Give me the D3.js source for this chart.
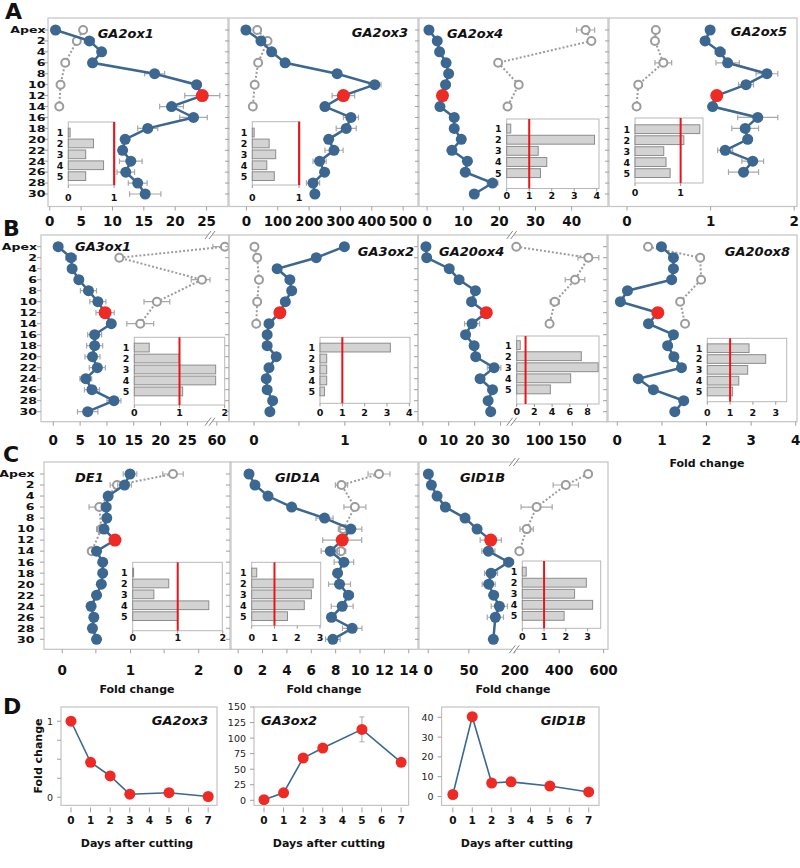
<!DOCTYPE html>
<html><head><meta charset="utf-8">
<script src="https://cdn.jsdelivr.net/npm/d3@7"></script>
<style>body{margin:0;background:#fff}svg{display:block}</style>
</head><body>
<script>
// ---------------- DATA ----------------
const rows = ["Apex","2","4","6","8","10","12","14","16","18","20","22","24","26","28","30"];
const insetCats = ["1","2","3","4","5"];
const days = [0,1,2,3,5,7];
const dayTicks = [0,1,2,3,4,5,6,7];

const GA2ox1_val = [1.0,6.4,8.35,6.9,16.8,23.5,24.4,19.5,23.0,15.7,12.1,11.7,13.0,12.2,14.1,15.3];
const GA2ox1_err = [0,0.8,0.5,0.4,1.6,0.5,2.8,1.9,2.2,1.6,0.5,0.5,1.8,1.4,1.5,2.5];
const GA2ox1_ref = [5.4,4.4,null,2.55,null,1.8,null,1.6];
const GA2ox1_refErr = [0.3,0.3,null,0.2,null,0.2,null,0.2];
const GA2ox1_inset = [0.04,0.55,0.38,0.77,0.38];
const GA2ox1_ticks = [0,5,10,15,20,25];

const GA2ox3_val = [0,48,82,125,291,411,311,252,335,320,264,281,235,251,214,220];
const GA2ox3_err = [0,10,8,12,10,20,36,10,24,32,10,29,21,10,21,8];
const GA2ox3_ref = [36,69,null,39,null,28,null,22];
const GA2ox3_refErr = [5,5,null,5,null,5,null,5];
const GA2ox3_inset = [0.04,0.36,0.5,0.31,0.47];
const GA2ox3_ticks = [0,100,200,300,400,500];

const GA2ox4_val = [0.65,2.95,3.6,5.4,6.1,5.25,4.4,3.7,7.65,7.65,9.6,7.0,11.3,10.7,18.25,13.2];
const GA2ox4_err = [0,0.3,0.3,0.3,0.3,0.3,0.3,0.3,0.3,0.3,0.3,0.3,0.3,0.3,1.5,0.3];
const GA2ox4_ref = [44.0,45.6,null,19.8,null,25.5,null,22.4];
const GA2ox4_refErr = [2.5,0.5,null,0.5,null,0.8,null,0.4];
const GA2ox4_inset = [0.18,3.9,1.4,1.78,1.5];
const GA2ox4_ticks = [0,10,20,30,40];

const GA2ox5_val = [1.0,0.94,1.12,1.21,1.68,1.43,1.08,1.03,1.57,1.42,1.45,1.18,1.51,1.40,null,null];
const GA2ox5_err = [0,0.02,0.06,0.14,0.13,0.09,0.02,0.02,0.24,0.16,0.05,0.09,0.13,0.18,null,null];
const GA2ox5_ref = [0.35,0.34,null,0.44,null,0.14,null,0.12];
const GA2ox5_refErr = [0.02,0.02,null,0.1,null,0.02,null,0.02];
const GA2ox5_inset = [1.42,1.07,0.63,0.68,0.77];
const GA2ox5_ticks = [0,1,2];

const GA3ox1_val = [1.0,3.4,3.6,4.85,6.65,8.4,9.75,10.9,7.8,7.8,7.4,8.3,6.15,7.3,11.4,6.5];
const GA3ox1_err = [0,1.0,0.5,0.5,1.5,1.5,1.7,0.5,1.3,1.5,1.4,1.5,1.1,1.4,1.3,1.9];
const GA3ox1_ref = [62.7,12.4,null,27.8,null,19.4,null,16.3];
const GA3ox1_refErr = [3.8,0.3,null,2.0,null,2.4,null,2.5];
const GA3ox1_inset = [0.33,0.99,1.8,1.8,1.07];
const GA3ox1_ticks = [0,5,10,15,20,25,60];

const GA3ox2_val = [1.0,0.69,0.26,0.40,0.42,0.35,0.29,0.17,0.15,0.15,0.25,0.17,0.14,0.15,0.21,0.18];
const GA3ox2_err = [0.03,0.03,0.02,0.03,0.03,0.02,0.02,0.02,0.02,0.02,0.03,0.02,0.02,0.02,0.02,0.02];
const GA3ox2_ref = [0.01,0.04,null,0.06,null,0.04,null,0.03];
const GA3ox2_refErr = [0.01,0.01,null,0.01,null,0.01,null,0.01];
const GA3ox2_inset = [3.15,0.3,0.3,0.3,0.2];
const GA3ox2_ticks = [0,1];

const GA20ox4_val = [1.4,1.7,10.4,14.2,20.5,19.0,24.7,19.2,16.7,20.0,20.6,27.7,22.3,27.1,25.4,26.4];
const GA20ox4_err = [0,0.3,0.5,0.5,0.5,0.5,0.5,2.9,0.5,0.5,0.5,2.6,0.5,0.5,0.5,0.5];
const GA20ox4_ref = [65,175.5,null,155,null,124,null,116];
const GA20ox4_refErr = [2,16,null,15,null,7,null,3];
const GA20ox4_inset = [0.4,7.3,9.2,6.1,3.8];
const GA20ox4_ticks = [0,10,20,30,100,150];

const GA20ox8_val = [1.0,1.27,1.27,1.23,0.24,0.08,0.92,0.71,1.27,1.14,1.28,1.45,0.48,0.82,1.5,1.3];
const GA20ox8_err = [0.02,0.02,0.02,0.02,0.02,0.02,0.02,0.02,0.02,0.02,0.02,0.02,0.02,0.02,0.02,0.02];
const GA20ox8_ref = [0.70,1.87,null,1.89,null,1.42,null,1.53];
const GA20ox8_refErr = [0.02,0.02,null,0.02,null,0.02,null,0.02];
const GA20ox8_inset = [1.83,2.56,1.77,1.38,1.11];
const GA20ox8_ticks = [0,1,2,3,4];

const DE1_val = [1.0,0.92,0.68,0.65,0.66,0.62,0.78,0.51,0.60,0.60,0.58,0.51,0.43,0.47,0.45,0.51];
const DE1_err = [0.1,0.1,0.03,0.07,0.03,0.03,0.03,0.03,0.03,0.03,0.03,0.02,0.02,0.02,0.02,0.02];
const DE1_ref = [1.63,0.81,null,0.55,null,0.58,null,0.44];
const DE1_refErr = [0.15,0.1,null,0.15,null,0.07,null,0.03];
const DE1_inset = [0.02,0.8,0.47,1.69,1.0];
const DE1_ticks = [0,1,2];

const GID1A_val = [0.93,1.42,2.49,4.43,7.13,9.29,8.58,7.6,8.72,8.2,8.36,9.1,8.58,7.7,9.4,7.81];
const GID1A_err = [0,0.1,0.1,0.1,0.7,0.9,1.6,0.75,0.8,0.3,0.9,0.4,0.9,0.2,0.8,0.6];
const GID1A_ref = [11.6,8.52,null,9.62,null,8.66,null,8.47];
const GID1A_refErr = [0.9,0.5,null,0.9,null,0.4,null,0.4];
const GID1A_inset = [0.22,2.7,2.62,2.31,1.57];
const GID1A_ticks = [0,2,4,6,8,10,12,14];

const GID1B_val = [0.8,4.5,11.5,21.7,45.9,60.7,77.5,74.6,99.6,77.9,75.0,81.1,88.1,83.2,null,80.7];
const GID1B_err = [0,1,1,1,2,2,13,8,6,8,8,5,10,10,null,3];
const GID1B_ref = [532.6,432,null,300.6,null,255.6,null,222.7];
const GID1B_refErr = [15,57,null,70,null,30,null,5];
const GID1B_inset = [0.18,2.94,2.4,3.23,1.92];
const GID1B_ticks = [0,50,200,400,600];

const D_GA2ox3 = [1.0,0.46,0.28,0.04,0.06,0.01];
const D_GA2ox3_err = [0,0.01,0.01,0.01,0.01,0.01];
const D_GA3ox2 = [1,12,68,84,114,61];
const D_GA3ox2_err = [0,3,6,5,20,4];
const D_GID1B = [1,40.3,6.8,7.4,5.3,2.3];
const D_GID1B_err = [0,0.5,0.5,0.5,1,0.5];

// ---------------- STYLE / LAYOUT ----------------
const FONT = "'DejaVu Sans', sans-serif";
const BLUE = "#3b6790", RED = "#ee2a24", GRAY = "#9c9c9c", FRAME = "#c4c4c4", TICK = "#a0a0a0";

const svg = d3.select("body").append("svg").attr("width",800).attr("height",868)
  .style("font-family", FONT);

const rowLayout = {
  A:{top:18,bottom:206.5,y0:30,y1:194,tickTop:10,labelX:45.5},
  B:{top:235,bottom:421.7,y0:246.7,y1:411.7,tickTop:14,labelX:37},
  C:{top:462,bottom:649.3,y0:474,y1:639.3,tickTop:16,labelX:34.5}
};

const panels = [
 {row:"A",title:"GA2ox1",val:GA2ox1_val,err:GA2ox1_err,ref:GA2ox1_ref,refErr:GA2ox1_refErr,inset:GA2ox1_inset,ticks:GA2ox1_ticks,
  frame:[48,228],dom:[-0.2,28.5],rng:[48,228],tp:{x:97.7,y:37.7,a:"start"},labels:true,
  ins:{x0:68.3,x1:115,max:1.02,top:122,bot:185,band:[126,182.7],ticks:[0,1],ly:198}},
 {row:"A",title:"GA2ox3",val:GA2ox3_val,err:GA2ox3_err,ref:GA2ox3_ref,refErr:GA2ox3_refErr,inset:GA2ox3_inset,ticks:GA2ox3_ticks,
  frame:[229,418],dom:[-54,549],rng:[229,418],tp:{x:408,y:37.4,a:"end"},
  ins:{x0:252.3,x1:300,max:1.02,top:121.7,bot:185,band:[126,182.7],ticks:[0,1],ly:197.3}},
 {row:"A",title:"GA2ox4",val:GA2ox4_val,err:GA2ox4_err,ref:GA2ox4_ref,refErr:GA2ox4_refErr,inset:GA2ox4_inset,ticks:GA2ox4_ticks,
  frame:[419,608],dom:[-2.1,50.2],rng:[419,608],tp:{x:447,y:38,a:"start"},
  ins:{x0:506.7,x1:599,max:4.1,top:119,bot:188.5,band:[121.9,179.8],ticks:[0,1,2,3,4],ly:195.5}},
 {row:"A",title:"GA2ox5",val:GA2ox5_val,err:GA2ox5_err,ref:GA2ox5_ref,refErr:GA2ox5_refErr,inset:GA2ox5_inset,ticks:GA2ox5_ticks,
  frame:[609,797],dom:[-0.21,2.04],rng:[609,797],tp:{x:787,y:36.4,a:"end"},
  ins:{x0:635,x1:703,max:1.49,top:118,bot:183,band:[122.6,179.7],ticks:[0,1],ly:193}},
 {row:"B",title:"GA3ox1",val:GA3ox1_val,err:GA3ox1_err,ref:GA3ox1_ref,refErr:GA3ox1_refErr,inset:GA3ox1_inset,ticks:GA3ox1_ticks,
  frame:[41,229],dom:[-2.2,29.3,58,64],rng:[41,210,210,229],brk:210,tp:{x:75,y:251.4,a:"start"},labels:true,
  ins:{x0:134.3,x1:224.7,max:2.0,top:337.3,bot:405,band:[341,398],ticks:[0,1,2],ly:412.7}},
 {row:"B",title:"GA3ox2",val:GA3ox2_val,err:GA3ox2_err,ref:GA3ox2_ref,refErr:GA3ox2_refErr,inset:GA3ox2_inset,ticks:GA3ox2_ticks,minor:[0.5,1.5],
  frame:[229,418],dom:[-0.27,1.81],rng:[229,418],tp:{x:414,y:256.4,a:"end"},
  ins:{x0:320,x1:410,max:4.03,top:337.3,bot:403.3,band:[341,398],ticks:[0,1,2,3,4],ly:412.7}},
 {row:"B",title:"GA20ox4",val:GA20ox4_val,err:GA20ox4_err,ref:GA20ox4_ref,refErr:GA20ox4_refErr,inset:GA20ox4_inset,ticks:GA20ox4_ticks,
  frame:[418,608],dom:[-1.66,34.5,58,205.6],rng:[418,511.7,511.7,608],brk:511.7,tp:{x:439,y:256.4,a:"start"},
  ins:{x0:516.7,x1:599,max:9.3,top:336,bot:404,band:[338.5,396],ticks:[0,2,4,6,8],ly:411.7}},
 {row:"B",title:"GA20ox8",val:GA20ox8_val,err:GA20ox8_err,ref:GA20ox8_ref,refErr:GA20ox8_refErr,inset:GA20ox8_inset,ticks:GA20ox8_ticks,
  frame:[607,797],dom:[-0.22,4.04],rng:[607,797],tp:{x:790,y:256.4,a:"end"},
  ins:{x0:707.3,x1:786.7,max:3.48,top:338.3,bot:401.7,band:[341.7,398],ticks:[0,1,2,3],ly:412.7}},
 {row:"C",title:"DE1",val:DE1_val,err:DE1_err,ref:DE1_ref,refErr:DE1_refErr,inset:DE1_inset,ticks:DE1_ticks,minor:[0.5,1.5],
  frame:[44,231],dom:[-0.26,2.48],rng:[44,231],tp:{x:75,y:482.4,a:"start"},labels:true,
  ins:{x0:132.7,x1:222.3,max:1.99,top:562.3,bot:630.7,band:[566,622.7],ticks:[0,1,2],ly:637.7}},
 {row:"C",title:"GID1A",val:GID1A_val,err:GID1A_err,ref:GID1A_ref,refErr:GID1A_refErr,inset:GID1A_inset,ticks:GID1A_ticks,
  frame:[230,418],dom:[-0.63,14.8],rng:[230,418],tp:{x:275,y:482.4,a:"start"},
  ins:{x0:251.7,x1:320.7,max:3.03,top:562.3,bot:625.7,band:[566,622.7],ticks:[0,1,2,3],ly:637.7}},
 {row:"C",title:"GID1B",val:GID1B_val,err:GID1B_err,ref:GID1B_ref,refErr:GID1B_refErr,inset:GID1B_inset,ticks:GID1B_ticks,
  frame:[419,608],dom:[-10,106.5,200,622],rng:[419.6,514.3,514.3,608],brk:514.3,tp:{x:460,y:482.4,a:"start"},
  ins:{x0:522.3,x1:600.7,max:3.6,top:561,bot:628.3,band:[565,622.5],ticks:[0,1,2,3],ly:636.7}}
];

function errBar(g, x, y, v, e, color) {
  if (v == null || e == null || e <= 0) return;
  const a = x(v - e), b = x(v + e);
  g.append("line").attr("x1",a).attr("x2",b).attr("y1",y).attr("y2",y).attr("stroke",color).attr("stroke-width",1.2);
  [a,b].forEach(xx => g.append("line").attr("x1",xx).attr("x2",xx).attr("y1",y-2.8).attr("y2",y+2.8).attr("stroke",color).attr("stroke-width",1.2));
}

function drawBreak(g, bx, y) {
  g.append("polygon").attr("points",`${bx-5},${y+4} ${bx+1},${y-4} ${bx+5},${y-4} ${bx-1},${y+4}`).attr("fill","#fff");
  g.append("line").attr("x1",bx-5).attr("y1",y+4).attr("x2",bx+1).attr("y2",y-4).attr("stroke","#888");
  g.append("line").attr("x1",bx-1).attr("y1",y+4).attr("x2",bx+5).attr("y2",y-4).attr("stroke","#888");
}

function drawInset(g, ins, data) {
  const x = d3.scaleLinear().domain([0, ins.max]).range([ins.x0, ins.x1]);
  const y = d3.scaleBand().domain(insetCats).range(ins.band).padding(0.2);
  g.append("rect").attr("x",ins.x0).attr("y",ins.top).attr("width",ins.x1-ins.x0).attr("height",ins.bot-ins.top)
    .attr("fill","#fff").attr("stroke","#b8b8b8");
  g.selectAll(null).data(data).join("rect")
    .attr("x",x(0)).attr("y",(d,i)=>y(insetCats[i])).attr("width",d=>x(d)-x(0)).attr("height",y.bandwidth())
    .attr("fill","#d3d3d3").attr("stroke","#8c8c8c").attr("stroke-width",1);
  g.append("line").attr("x1",x(1)).attr("x2",x(1)).attr("y1",ins.top).attr("y2",ins.bot).attr("stroke","#e8161b").attr("stroke-width",2);
  ins.ticks.forEach(t => {
    g.append("line").attr("x1",x(t)).attr("x2",x(t)).attr("y1",ins.bot).attr("y2",ins.bot+3).attr("stroke","#999");
    g.append("text").attr("x",x(t)).attr("y",ins.ly).attr("dy","0.36em").attr("text-anchor","middle")
      .attr("font-size",9.5).attr("font-weight","bold").attr("fill","#111").text(t);
  });
  insetCats.forEach(c => g.append("text").attr("x",ins.x0-5).attr("y",y(c)+y.bandwidth()/2).attr("dy","0.36em")
    .attr("text-anchor","end").attr("font-size",9.5).attr("font-weight","bold").attr("fill","#111").text(c));
}

panels.forEach((p, pi) => {
  const R = rowLayout[p.row];
  const g = svg.append("g");
  const x = d3.scaleLinear().domain(p.dom).range(p.rng);
  const y = d3.scalePoint().domain(rows).range([R.y0, R.y1]);
  const [fx0, fx1] = p.frame;

  g.append("rect").attr("x",fx0).attr("y",R.top).attr("width",fx1-fx0).attr("height",R.bottom-R.top)
    .attr("fill","none").attr("stroke",FRAME).attr("stroke-width",1.2);
  rows.forEach(r => g.append("line").attr("x1",fx0-4).attr("x2",fx0).attr("y1",y(r)).attr("y2",y(r)).attr("stroke",TICK));
  if (p.labels) {
    g.selectAll(null).data(rows).join("text")
      .attr("transform", d => `translate(${R.labelX},${y(d)}) scale(1.35,1)`)
      .attr("dy","0.36em").attr("text-anchor","end").attr("font-size",9.3).attr("font-weight","bold").attr("fill","#111").text(d=>d);
  }
  const ax = g.append("g").attr("transform",`translate(0,${R.bottom})`)
    .call(d3.axisBottom(x).tickValues(p.ticks).tickSize(4).tickSizeOuter(0).tickFormat(d3.format("d")));
  ax.select(".domain").remove();
  ax.selectAll(".tick line").attr("stroke",TICK);
  ax.selectAll("text").attr("y",R.tickTop).attr("font-size",13.5).attr("font-weight","bold").attr("font-family",FONT).attr("fill","#111");
  (p.minor||[]).forEach(t => g.append("line").attr("x1",x(t)).attr("x2",x(t)).attr("y1",R.bottom).attr("y2",R.bottom+4).attr("stroke",TICK));

  if (p.brk) { drawBreak(g, p.brk, R.top); drawBreak(g, p.brk, R.bottom); }

  drawInset(g.append("g"), p.ins, p.inset);

  const cid = "clip"+pi;
  g.append("clipPath").attr("id",cid).append("rect").attr("x",fx0).attr("y",R.top).attr("width",fx1-fx0).attr("height",R.bottom-R.top);
  const pg = g.append("g").attr("clip-path",`url(#${cid})`);

  const refPts = p.ref.map((v,i)=>({v, e:p.refErr[i], r:rows[i]})).filter(d=>d.v!=null);
  pg.append("path").datum(refPts).attr("fill","none").attr("stroke",GRAY).attr("stroke-width",2).attr("stroke-dasharray","2,2")
    .attr("d", d3.line().x(d=>x(d.v)).y(d=>y(d.r)));
  refPts.forEach(d => errBar(pg, x, y(d.r), d.v, d.e, "#a8a8a8"));
  pg.selectAll(null).data(refPts).join("circle").attr("cx",d=>x(d.v)).attr("cy",d=>y(d.r)).attr("r",4)
    .attr("fill","#fff").attr("stroke",GRAY).attr("stroke-width",2);

  const pts = p.val.map((v,i)=>({v, e:p.err[i], r:rows[i], i})).filter(d=>d.v!=null);
  pts.forEach(d => errBar(pg, x, y(d.r), d.v, d.e, "#a8a8a8"));
  pg.append("path").datum(pts).attr("fill","none").attr("stroke",BLUE).attr("stroke-width",2.5)
    .attr("d", d3.line().x(d=>x(d.v)).y(d=>y(d.r)));
  pg.selectAll(null).data(pts).join("circle").attr("cx",d=>x(d.v)).attr("cy",d=>y(d.r))
    .attr("r",d=>d.i===6?6.5:5.5).attr("fill",d=>d.i===6?RED:BLUE);

  g.append("text").attr("x",p.tp.x).attr("y",p.tp.y).attr("text-anchor",p.tp.a)
    .attr("font-size",13).attr("font-weight","bold").attr("font-style","italic").attr("fill","#111").text(p.title);
});

[[707,463],[137,689],[324,689],[513,689]].forEach(([cx,cy]) =>
  svg.append("text").attr("x",cx).attr("y",cy).attr("dy","0.36em").attr("text-anchor","middle")
    .attr("font-size",11).attr("font-weight","bold").attr("fill","#111").text("Fold change"));

[["A",5,19],["B",3,236],["C",3,462],["D",3,714]].forEach(([t,x,y]) =>
  svg.append("text").attr("x",x).attr("y",y).attr("font-size",22).attr("font-weight","bold").attr("fill","#111").text(t));

// ---------------- Panel D ----------------
const DTOP = 707, DBOT = 805.4;
const dPanels = [
  {title:"GA2ox3",val:D_GA2ox3,err:D_GA2ox3_err,yTicks:[0,1],yMinor:[0.25,0.5,0.75],fx:[61,217],xdom:[-0.51,7.45],ydom:[-0.107,1.187],tp:{x:208,a:"end"},xl:137},
  {title:"GA3ox2",val:D_GA3ox2,err:D_GA3ox2_err,yTicks:[0,25,50,75,100,125,150],yMinor:[],fx:[254,408.6],xdom:[-0.51,7.38],ydom:[-8.2,150],tp:{x:261,a:"start"},xl:329},
  {title:"GID1B",val:D_GID1B,err:D_GID1B_err,yTicks:[0,10,20,30,40],yMinor:[],fx:[441.6,599],xdom:[-0.58,7.53],ydom:[-4.5,45.2],tp:{x:586,a:"end"},xl:517}
];
dPanels.forEach(p => {
  const g = svg.append("g");
  const x = d3.scaleLinear().domain(p.xdom).range(p.fx);
  const y = d3.scaleLinear().domain(p.ydom).range([DBOT, DTOP]);
  g.append("rect").attr("x",p.fx[0]).attr("y",DTOP).attr("width",p.fx[1]-p.fx[0]).attr("height",DBOT-DTOP)
    .attr("fill","none").attr("stroke",FRAME).attr("stroke-width",1.2);
  dayTicks.forEach(t => {
    g.append("line").attr("x1",x(t)).attr("x2",x(t)).attr("y1",DBOT+2).attr("y2",DBOT+7).attr("stroke",TICK);
    g.append("text").attr("x",x(t)).attr("y",820.5).attr("dy","0.36em").attr("text-anchor","middle")
      .attr("font-size",10.5).attr("font-weight","bold").attr("fill","#111").text(t);
  });
  p.yTicks.concat(p.yMinor).forEach(t => g.append("line").attr("x1",p.fx[0]-4).attr("x2",p.fx[0]).attr("y1",y(t)).attr("y2",y(t)).attr("stroke",TICK));
  p.yTicks.forEach(t => g.append("text").attr("x",p.fx[0]-8).attr("y",y(t)).attr("dy","0.36em").attr("text-anchor","end")
      .attr("font-size",9.5).attr("fill","#222").text(t));
  const pts = p.val.map((v,i)=>({v, e:p.err[i], d:days[i]}));
  pts.forEach(d => {
    if (d.e > 0) {
      const a = y(d.v - d.e), b = y(d.v + d.e);
      g.append("line").attr("x1",x(d.d)).attr("x2",x(d.d)).attr("y1",a).attr("y2",b).attr("stroke","#aaa");
      [a,b].forEach(yy => g.append("line").attr("x1",x(d.d)-2.5).attr("x2",x(d.d)+2.5).attr("y1",yy).attr("y2",yy).attr("stroke","#aaa"));
    }
  });
  g.append("path").datum(pts).attr("fill","none").attr("stroke",BLUE).attr("stroke-width",1.6)
    .attr("d", d3.line().x(d=>x(d.d)).y(d=>y(d.v)));
  g.selectAll(null).data(pts).join("circle").attr("cx",d=>x(d.d)).attr("cy",d=>y(d.v)).attr("r",5.5).attr("fill",RED);
  g.append("text").attr("x",p.tp.x).attr("y",725).attr("text-anchor",p.tp.a)
    .attr("font-size",13).attr("font-weight","bold").attr("font-style","italic").attr("fill","#111").text(p.title);
  g.append("text").attr("x",p.xl).attr("y",843).attr("dy","0.36em").attr("text-anchor","middle")
    .attr("font-size",11).attr("font-weight","bold").attr("fill","#111").text("Days after cutting");
});
svg.append("text").attr("transform","translate(38,756) rotate(-90)").attr("text-anchor","middle").attr("dy","0.36em")
  .attr("font-size",11).attr("font-weight","bold").attr("fill","#111").text("Fold change");
</script>
</body></html>
